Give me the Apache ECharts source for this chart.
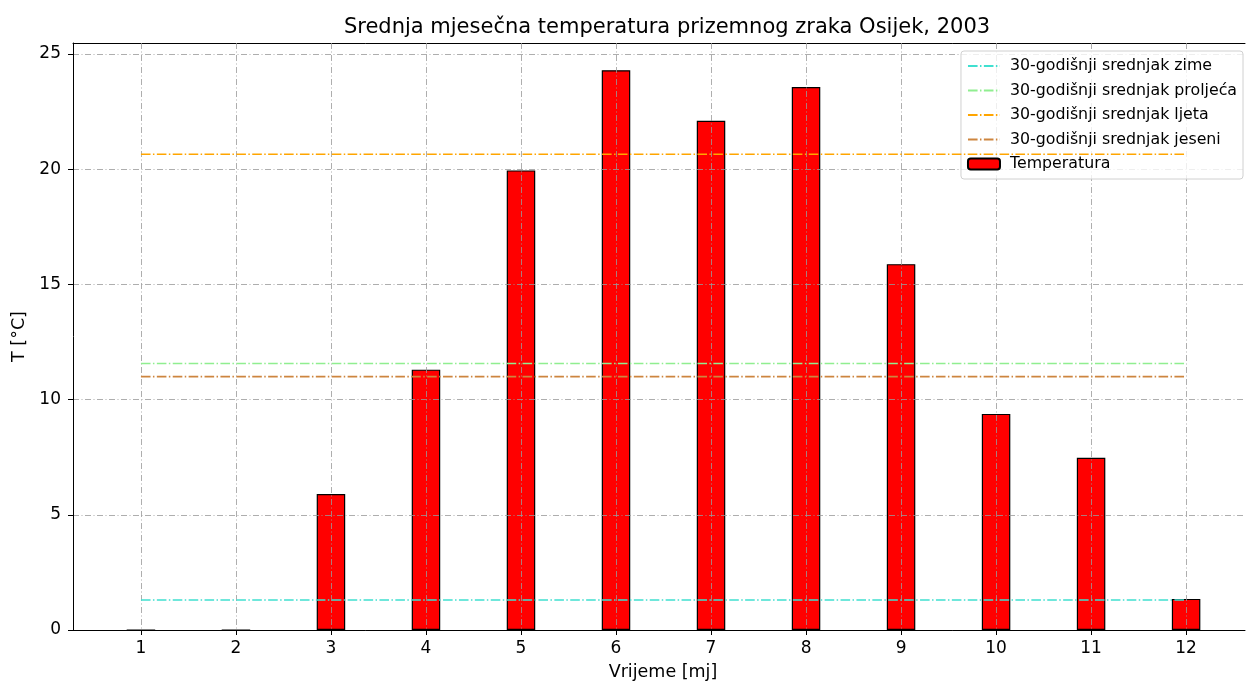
<!DOCTYPE html>
<html>
<head>
<meta charset="utf-8">
<script src="https://cdn.jsdelivr.net/npm/echarts@6/dist/echarts.min.js"></script>
<style>html,body{margin:0;padding:0;background:#fff}#c{width:1246px;height:684px}</style>
</head>
<body>
<div id="c"></div>
<script>
const months = [1,2,3,4,5,6,7,8,9,10,11,12];
const temperature = [0, 0, 5.9, 11.3, 19.95, 24.3, 22.1, 23.57, 15.88, 9.38, 7.48, 1.35];
const meanWinter = 1.3;
const meanSpring = 11.57;
const meanSummer = 20.65;
const meanAutumn = 11.0;
const yTicks = [0,5,10,15,20,25];
const seasonNames = ['30-godišnji srednjak zime','30-godišnji srednjak proljeća','30-godišnji srednjak ljeta','30-godišnji srednjak jeseni'];
const seasonValues = [meanWinter, meanSpring, meanSummer, meanAutumn];
const seasonColors = ['#40E0D0','#90EE90','#FFA500','#CD853F'];

const FONT = 'DejaVu Sans';
const dashDot = [9.6, 2.4, 1.5, 2.4];
const gridDash = [6, 2.5, 1, 2.5];

const chart = echarts.init(document.getElementById('c'), null, {renderer:'canvas'});

const lineSeries = seasonNames.map((n,i)=>({
  name: n,
  type: 'line',
  data: [[months[0], seasonValues[i]], [months[months.length-1], seasonValues[i]]],
  symbol: 'none',
  z: 5,
  lineStyle: {color: seasonColors[i], width: 1.6, type: dashDot},
  itemStyle: {color: seasonColors[i]},
  emphasis: {disabled: true},
  silent: true
}));

const legendData = seasonNames.map(n => ({name: n, itemStyle: {opacity: 0}, lineStyle: {width: 2}}))
  .concat([{name: 'Temperatura'}]);

chart.setOption({
  animation: false,
  textStyle: {fontFamily: FONT},
  title: {
    text: 'Srednja mjesečna temperatura prizemnog zraka Osijek, 2003',
    left: 662, top: 12, textAlign: 'center',
    textStyle: {fontFamily: FONT, fontSize: 21, fontWeight: 'normal', color: '#000'}
  },
  grid: {left: 73, right: 1, top: 43, bottom: 54, containLabel: false, outerBoundsMode: 'none'},
  legend: {
    orient: 'vertical',
    right: 3, top: 51,
    data: legendData,
    itemWidth: 32, itemHeight: 11, itemGap: 8.5,
    padding: [7, 6, 7, 6],
    backgroundColor: 'rgba(255,255,255,0.8)',
    borderColor: '#d0d0d0', borderWidth: 1, borderRadius: 3,
    textStyle: {fontFamily: FONT, fontSize: 15.8, color: '#000', lineHeight: 15, padding: [0,0,0,5]},
    selectedMode: false
  },
  xAxis: [{
    type: 'value',
    min: 0.285, max: 12.62,
    z: 3,
    name: 'Vrijeme [mj]', nameLocation: 'middle', nameGap: 33,
    nameTextStyle: {fontFamily: FONT, fontSize: 17.5, color: '#000', padding: [0,0,0,8]},
    axisLine: {show: true, onZero: false, lineStyle: {color: '#000', width: 1}},
    axisTick: {show: true, length: 5, inside: false, lineStyle: {color: '#000'}, customValues: months},
    axisLabel: {fontFamily: FONT, fontSize: 17, color: '#000', margin: 10, customValues: months},
    splitLine: {show: true, lineStyle: {color: '#999', width: 0.8, type: gridDash}}
  }, {
    type: 'value',
    position: 'top',
    min: 0.285, max: 12.62,
    axisLine: {show: true, onZero: false, lineStyle: {color: '#000', width: 1}},
    axisTick: {show: false}, axisLabel: {show: false}, splitLine: {show: false}
  }],
  yAxis: {
    type: 'value',
    min: 0, max: 25.48,
    z: 3,
    name: 'T [°C]', nameLocation: 'middle', nameGap: 43, nameRotate: 90,
    nameTextStyle: {fontFamily: FONT, fontSize: 17.5, color: '#000'},
    axisLine: {show: true, lineStyle: {color: '#000', width: 1}},
    axisTick: {show: true, length: 5, lineStyle: {color: '#000'}, customValues: yTicks},
    axisLabel: {fontFamily: FONT, fontSize: 17, color: '#000', margin: 12, customValues: yTicks},
    splitLine: {show: true, lineStyle: {color: '#999', width: 0.8, type: gridDash}}
  },
  series: [
    ...lineSeries,
    {
      name: 'Temperatura',
      type: 'bar',
      data: months.map((m,i)=>[m, temperature[i]]),
      barWidth: 28.5,
      z: 2,
      itemStyle: {color: '#ff0000', borderColor: '#000', borderWidth: 1.2},
      emphasis: {disabled: true},
      silent: true
    }
  ]
});
</script>
</body>
</html>
